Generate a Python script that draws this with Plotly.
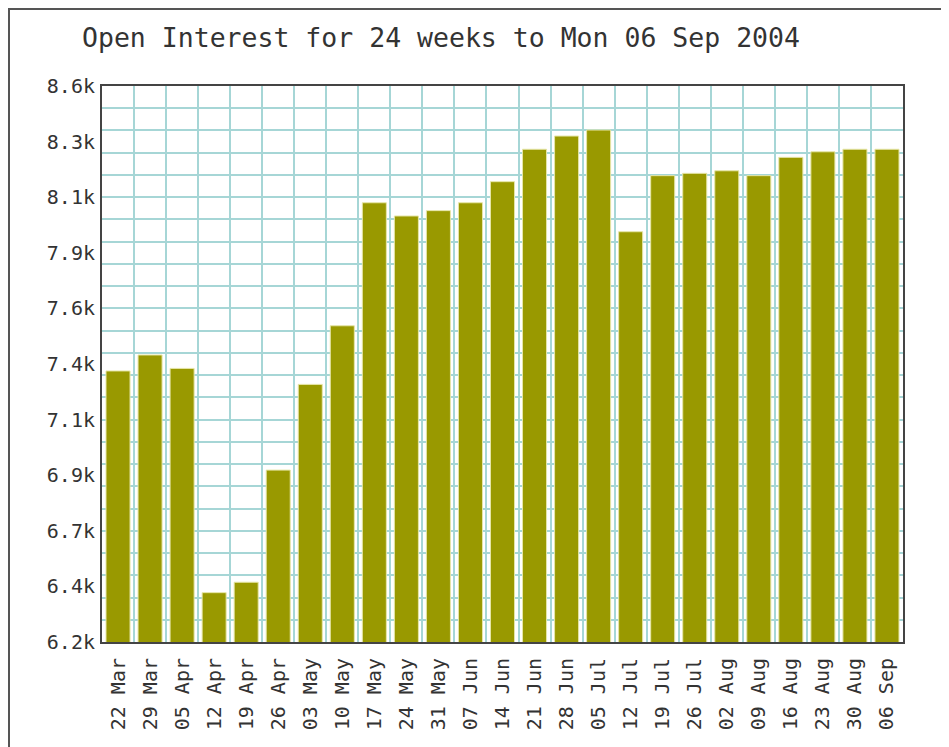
import plotly.graph_objects as go

# ---- data ----
weeks = ["22 Mar", "29 Mar", "05 Apr", "12 Apr", "19 Apr", "26 Apr", "03 May",
         "10 May", "17 May", "24 May", "31 May", "07 Jun", "14 Jun", "21 Jun",
         "28 Jun", "05 Jul", "12 Jul", "19 Jul", "26 Jul", "02 Aug", "09 Aug",
         "16 Aug", "23 Aug", "30 Aug", "06 Sep"]
open_interest = [7350, 7419, 7361, 6393, 6438, 6922, 7292, 7545, 8076, 8019,
                 8042, 8076, 8167, 8307, 8364, 8390, 7951, 8193, 8203, 8214,
                 8193, 8272, 8296, 8307, 8307]
y_tick_vals = [6180, 6420, 6660, 6900, 7140, 7380, 7620, 7860, 8100, 8340, 8580]
y_tick_text = ["6.2k", "6.4k", "6.7k", "6.9k", "7.1k", "7.4k", "7.6k", "7.9k",
               "8.1k", "8.3k", "8.6k"]
y_min, y_max = 6180, 8580
title_text = "Open Interest for 24 weeks to Mon 06 Sep 2004"

FONT = "DejaVu Sans Mono"
GRID = "#a6d6d6"

# page body has an 8px margin, so the figure is 8px smaller than the window
W, H = 941, 739
L, R, T, B = 94, 46, 78, 105
pw, ph = W - L - R, H - T - B

n = len(weeks)
xs = list(range(n))

fig = go.Figure()
fig.add_trace(go.Bar(
    x=xs, y=open_interest,
    marker=dict(color="#999900", line=dict(color="#e6e6a8", width=1)),
    hoverinfo="skip",
))
# empty trace so that the label axis is drawn
fig.add_trace(go.Scatter(x=[None], y=[None], yaxis="y2", mode="markers",
                         hoverinfo="skip", showlegend=False))

grid_vals = [y_min + (y_max - y_min) * j / 25 for j in range(26)]

fig.update_layout(
    width=W, height=H,
    margin=dict(l=L, r=R, t=T, b=B, pad=0),
    paper_bgcolor="white", plot_bgcolor="white",
    showlegend=False,
    bargap=0.25,
    title=dict(text=title_text, x=74 / W, xanchor="left", xref="container",
               y=1 - 30 / H, yanchor="middle", yref="container",
               font=dict(family=FONT, size=26.5, color="#333333")),
    xaxis=dict(
        range=[-0.5, n - 0.5],
        tickmode="array", tickvals=xs, ticktext=weeks,
        tickangle=-90, showgrid=False, zeroline=False,
        tickfont=dict(family=FONT, size=20, color="#333333"),
        ticks="", ticklabelstandoff=6,
        minor=dict(tick0=0.5, dtick=1, showgrid=True, gridcolor=GRID, gridwidth=2, ticks=""),
        showline=True, mirror=True, linecolor="#444444", linewidth=2,
    ),
    yaxis=dict(
        range=[y_min, y_max],
        tickmode="array", tickvals=grid_vals, showticklabels=False,
        showgrid=True, gridcolor=GRID, gridwidth=2, zeroline=False, ticks="",
        showline=True, mirror=True, linecolor="#444444", linewidth=2,
    ),
    yaxis2=dict(
        range=[y_min, y_max], overlaying="y", side="left",
        tickmode="array", tickvals=y_tick_vals, ticktext=y_tick_text,
        showgrid=False, zeroline=False, ticks="", ticklabelstandoff=6,
        tickfont=dict(family=FONT, size=20, color="#333333"),
        showline=False,
    ),
)

# outer frame of the image
fig.add_shape(type="rect", xref="paper", yref="paper",
              x0=(1 - L) / pw, x1=(938 - L) / pw,
              y0=(H - B - 760) / ph, y1=(H - B - 1) / ph,
              line=dict(color="#555555", width=2), fillcolor="rgba(0,0,0,0)",
              layer="above")

fig.write_html("out.html")
